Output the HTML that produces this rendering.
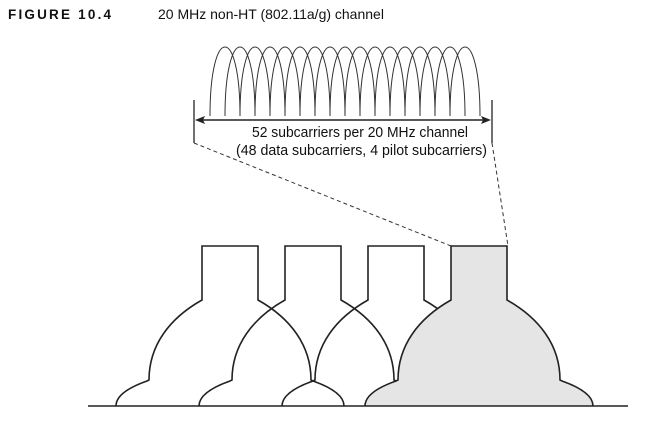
<!DOCTYPE html>
<html><head><meta charset="utf-8"><style>
html,body{margin:0;padding:0;background:#fff;}
svg{display:block;font-family:"Liberation Sans",sans-serif;}
</style></head><body>
<svg id="fig" width="660" height="432" viewBox="0 0 660 432">
<text x="8" y="19" font-size="13.5" font-weight="bold" letter-spacing="2.2" fill="#111">FIGURE 10.4</text>
<text x="158" y="19" font-size="14" fill="#111">20 MHz non-HT (802.11a/g) channel</text>
<g id="subs"></g>
<line x1="194" y1="100" x2="194" y2="143" stroke="#222" stroke-width="1.3"/>
<line x1="492" y1="100" x2="492" y2="143" stroke="#222" stroke-width="1.3"/>
<line x1="200" y1="120" x2="486" y2="120" stroke="#222" stroke-width="1.4"/>
<polygon points="195,120 205,116 203,120 205,124" fill="#222"/>
<polygon points="491,120 481,116 483,120 481,124" fill="#222"/>
<text x="360" y="137" font-size="15" text-anchor="middle" textLength="216" lengthAdjust="spacingAndGlyphs" fill="#111">52 subcarriers per 20 MHz channel</text>
<text x="361.5" y="155" font-size="15" text-anchor="middle" textLength="251" lengthAdjust="spacingAndGlyphs" fill="#111">(48 data subcarriers, 4 pilot subcarriers)</text>
<line x1="194" y1="143" x2="451" y2="246" stroke="#333" stroke-width="1" stroke-dasharray="4,3"/>
<line x1="492" y1="143" x2="508" y2="246" stroke="#333" stroke-width="1" stroke-dasharray="4,3"/>
<g id="masks"></g>
<line x1="88" y1="406" x2="628" y2="406" stroke="#222" stroke-width="1.6"/>
</svg>
<script>
const channelCenters = [230, 313, 396, 479];
const shadedChannel = [false, false, false, true];
const subcarrierCount = 17;
const NS = "http://www.w3.org/2000/svg";
const subs = document.getElementById('subs');
const sx0 = 210, sStep = 15, sW = 30;
for (let i = 0; i < subcarrierCount; i++) {
  const x = sx0 + i * sStep;
  const p = document.createElementNS(NS, 'path');
  p.setAttribute('d', `M${x},116 C${x},24 ${x+sW},24 ${x+sW},116`);
  p.setAttribute('fill', 'none');
  p.setAttribute('stroke', '#333');
  p.setAttribute('stroke-width', '1');
  
  
  subs.appendChild(p);
}
const masks = document.getElementById('masks');
function maskPath(c) {
  return `M${c-114},406 C${c-114},395 ${c-100},387 ${c-83},381 L${c-81},380 C${c-81},345 ${c-60},318 ${c-28},300 L${c-28},246 L${c+28},246 L${c+28},300 C${c+60},318 ${c+81},345 ${c+81},380 L${c+83},381 C${c+100},387 ${c+114},395 ${c+114},406`;
}
channelCenters.forEach((c, i) => {
  const p = document.createElementNS(NS, 'path');
  p.setAttribute('d', maskPath(c));
  p.setAttribute('fill', shadedChannel[i] ? '#e5e5e5' : 'none');
  p.setAttribute('stroke', '#222');
  p.setAttribute('stroke-width', '1.6');
  
  
  masks.appendChild(p);
});
</script>
</body></html>
